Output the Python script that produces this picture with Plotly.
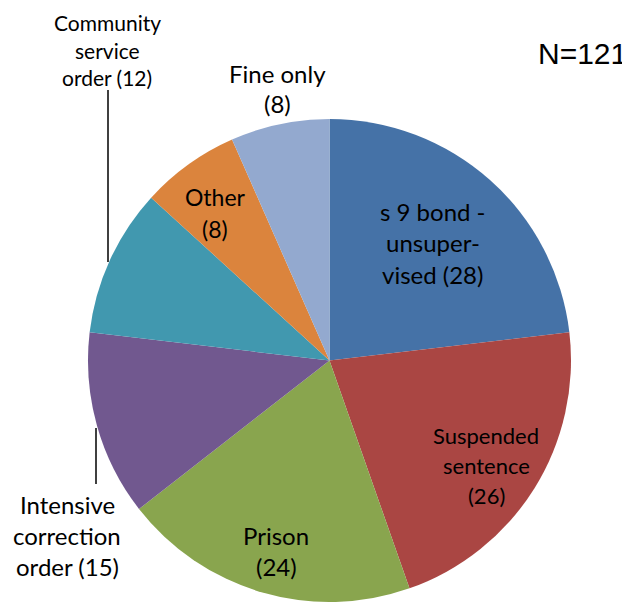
import plotly.graph_objects as go

# slices, clockwise from 12 o'clock
categories = ["s 9 bond - unsupervised", "Suspended sentence", "Prison",
              "Intensive correction order", "Community service order",
              "Other", "Fine only"]
counts = [28, 26, 24, 15, 12, 8, 8]
colors = ["#4572A7", "#AA4643", "#89A54E", "#71588F", "#4198AF", "#DB843D", "#93A9CF"]

# label text as drawn on the chart
label_lines = [
    ["s 9 bond -", "unsuper-", "vised (28)"],
    ["Suspended", "sentence", "(26)"],
    ["Prison", "(24)"],
    ["Intensive", "correction", "order (15)"],
    ["Community", "service", "order (12)"],
    ["Other", "(8)"],
    ["Fine only", "(8)"],
]
# label centres in window pixels (x, y from top)
label_pos = [(433, 243), (486, 465), (276, 551), (67, 535), (107, 50), (215, 213), (277, 88)]
label_size = [24, 22, 24, 24, 21, 23, 24]
label_step = [31.5, 30, 31, 31, 27.5, 31, 30]

# page body has an 8px margin, so work in figure pixels
OFF = 8
W, H = 622, 594


def px(x, y):
    return (x - OFF) / W, 1 - (y - OFF) / H


fig = go.Figure(go.Pie(
    labels=categories, values=counts, sort=False, direction="clockwise", rotation=0,
    marker=dict(colors=colors, line=dict(width=0)),
    textinfo="none", hoverinfo="label+value", showlegend=False,
    domain=dict(x=[(88 - OFF) / W, (571 - OFF) / W], y=[0, 483 / H]),
))

font = "Lato, Open Sans, sans-serif"
for lines, (cx, cy), fs, step in zip(label_lines, label_pos, label_size, label_step):
    top = cy - step * (len(lines) - 1) / 2
    for i, t in enumerate(lines):
        x, y = px(cx, top + i * step)
        fig.add_annotation(x=x, y=y, xref="paper", yref="paper",
                           text=t, showarrow=False, xanchor="center", yanchor="middle",
                           font=dict(family=font, size=fs, color="black"))

x, y = px(582, 53)
fig.add_annotation(x=x, y=y, xref="paper", yref="paper", text="N=121",
                   showarrow=False, xanchor="center", yanchor="middle",
                   font=dict(family="Liberation Sans, Arial", size=30, color="black"))

# leader lines
for lx, y0, y1 in [(108, 90, 262), (96, 428, 484)]:
    xa, ya = px(lx, y0)
    xb, yb = px(lx, y1)
    fig.add_shape(type="line", xref="paper", yref="paper",
                  x0=xa, x1=xb, y0=ya, y1=yb,
                  line=dict(color="black", width=1.5))

fig.update_layout(width=W, height=H, margin=dict(l=0, r=0, t=0, b=0),
                  paper_bgcolor="white", plot_bgcolor="white")

fig.write_html("out.html")
